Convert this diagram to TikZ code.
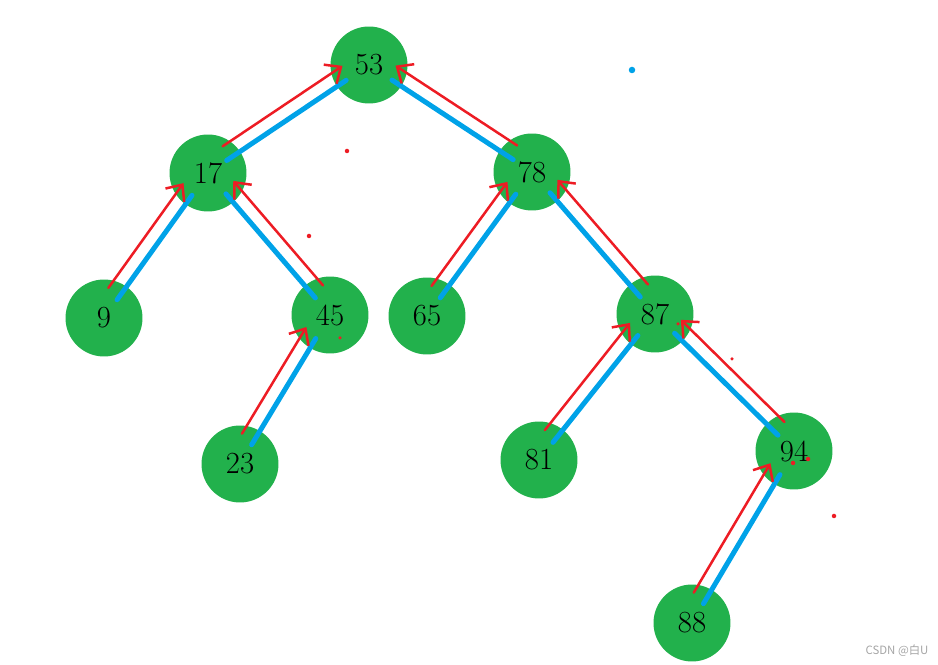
\documentclass[tikz,border=0pt]{standalone}
\usepackage{fontspec}
\newfontfamily\cjkfont{Noto Sans CJK SC}
\usetikzlibrary{arrows.meta, calc}
\definecolor{nodegreen}{RGB}{34,177,76}
\definecolor{edgeblue}{RGB}{0,162,232}
\definecolor{backred}{RGB}{237,28,36}
\definecolor{markgray}{RGB}{165,165,165}

% red return arrow beside a tree edge: child, parent, side (90 = left child, -90 = right child)
\newcommand{\upedge}[3]{%
  \coordinate (off) at ($(#1.center)!0.28cm!#3:(#2.center)$);
  \draw[backarr] (off) -- ($(#2.center)+(off)-(#1.center)$);
}

\begin{document}
\begin{tikzpicture}[
    x=0.02cm, y=-0.02cm,
    key/.style={circle, fill=nodegreen, minimum size=1.54cm, inner sep=0pt,
                font=\fontsize{17.5}{20}\selectfont},
    link/.style={draw=edgeblue, line width=0.1cm, line cap=round,
                 shorten <=0.45cm, shorten >=0.55cm},
    backarr/.style={draw=backred, line width=0.05cm, line cap=round,
                    -{Straight Barb[length=2.6mm, width=4.6mm]},
                    shorten <=0.54cm, shorten >=0.45cm},
    speck/.style={fill=backred}
]
\useasboundingbox (0,0) rectangle (938,665);

% keys
\node[key] (k53) at (369,65) {53};
\node[key] (k17) at (208,173) {17};
\node[key] (k78) at (532,172) {78};
\node[key] (k9)  at (104,318) {9};
\node[key] (k45) at (330,315) {45};
\node[key] (k65) at (427,316) {65};
\node[key] (k87) at (655,314) {87};
\node[key] (k23) at (240,464) {23};
\node[key] (k81) at (539,460) {81};
\node[key] (k94) at (794,451) {94};
\node[key] (k88) at (692,623) {88};

% tree edges (child to parent)
\draw[link] (k17.center) -- (k53.center);
\draw[link] (k78.center) -- (k53.center);
\draw[link] (k9.center)  -- (k17.center);
\draw[link] (k45.center) -- (k17.center);
\draw[link] (k23.center) -- (k45.center);
\draw[link] (k65.center) -- (k78.center);
\draw[link] (k87.center) -- (k78.center);
\draw[link] (k81.center) -- (k87.center);
\draw[link] (k94.center) -- (k87.center);
\draw[link] (k88.center) -- (k94.center);

% return arrows
\upedge{k17}{k53}{90}
\upedge{k78}{k53}{-90}
\upedge{k9}{k17}{90}
\upedge{k45}{k17}{-90}
\upedge{k23}{k45}{90}
\upedge{k65}{k78}{90}
\upedge{k87}{k78}{-90}
\upedge{k81}{k87}{90}
\upedge{k94}{k87}{-90}
\upedge{k88}{k94}{90}

% stray marks
\fill[speck] (347,151) circle (0.045cm);
\fill[speck] (309,236) circle (0.045cm);
\fill[speck] (340,338) circle (0.035cm);
\fill[speck] (678,324) circle (0.035cm);
\fill[speck] (732,359) circle (0.035cm);
\fill[speck] (793,463) circle (0.045cm);
\fill[speck] (808,459) circle (0.045cm);
\fill[speck] (834,516) circle (0.045cm);
\fill[edgeblue] (632,70) circle (0.065cm);

\node[text=markgray, font=\cjkfont\fontsize{6.5}{8}\selectfont] (mark) at (897,651) {CSDN @白U};
\end{tikzpicture}
\end{document}
